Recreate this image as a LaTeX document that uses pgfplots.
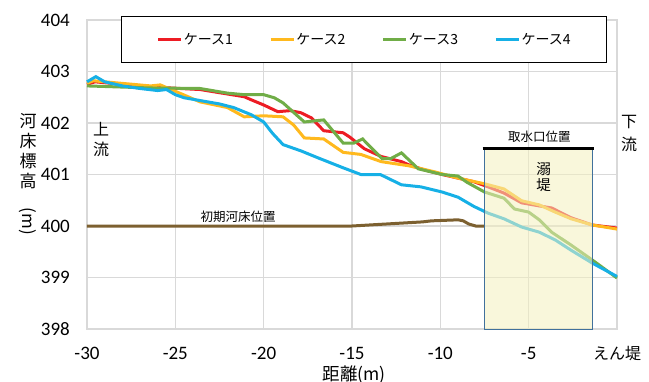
\documentclass[border=0pt]{standalone}
\usepackage{fontspec}
\setmainfont{Carlito}
\newfontfamily\jp{Noto Sans CJK JP}
\usepackage{graphicx}
\usepackage{pgfplots}
\pgfplotsset{compat=1.18}
\definecolor{cRed}{RGB}{237,28,36}
\definecolor{cOrange}{RGB}{255,185,30}
\definecolor{cGreen}{RGB}{112,173,71}
\definecolor{cBlue}{RGB}{22,176,230}
\definecolor{cBrown}{RGB}{124,96,48}
\definecolor{cFill}{RGB}{244,240,190}
\definecolor{cEdge}{RGB}{65,113,156}
\definecolor{cGrid}{RGB}{217,217,217}
\begin{document}
\begin{tikzpicture}
\path[use as bounding box] (0,0) rectangle (649pt,381pt);
\begin{axis}[
  at={(87pt,52pt)}, anchor=south west,
  scale only axis, width=530pt, height=309pt,
  xmin=-30, xmax=0, ymin=398, ymax=404,
  xtick={-30,-25,-20,-15,-10,-5,0},
  xticklabels={-30,-25,-20,-15,-10,-5,{\fontsize{16}{16}\selectfont\jp えん堤}},
  ytick={398,399,400,401,402,403,404},
  yticklabels={398,399,400,401,402,403,404},
  tick style={draw=none},
  grid=major, grid style={cGrid, line width=1.2pt},
  axis line style={cGrid, line width=1.2pt},
  ticklabel style={font=\fontsize{19}{19}\selectfont},
  xticklabel style={anchor=base, yshift=-30pt, inner sep=0pt},
  yticklabel style={anchor=east, xshift=-17pt, inner sep=0pt},
  xlabel={距離(m)},
  xlabel style={at={(axis description cs:0.504,-0.118)}, anchor=north, inner sep=0pt, font=\fontsize{17.5}{17.5}\selectfont\jp},
  ylabel={河\\床\\標\\高\\\rotatebox{-90}{(m)}},
  ylabel style={rotate=-90, at={(axis description cs:-0.111,0.5)}, anchor=center, align=center, font=\fontsize{17}{20}\selectfont\jp},
  clip=false,
  no markers,
  legend columns=4,
  legend style={at={(0.064,1.014)}, anchor=north west, draw=black, line width=0.8pt, fill=white,
    font=\fontsize{14}{14}\selectfont\jp, inner xsep=35pt, inner ysep=16pt,
    nodes={inner sep=1pt},
    /tikz/every even column/.append style={column sep=35pt}},
  legend image code/.code={\draw[#1, line width=3.5pt] (0pt,0pt) -- (23pt,0pt);},
]
\addplot[cRed, line width=3pt] coordinates {
(-30,402.75)(-29.55,402.8)(-26.4,402.7)(-23.6,402.65)(-21.1,402.51)(-20.7,402.45)(-20,402.35)(-19.2,402.22)(-18.5,402.24)(-17.9,402.2)(-17.3,402.1)(-16.6,401.85)(-15.5,401.81)(-15.1,401.72)(-14.3,401.5)(-13.35,401.35)(-12.2,401.25)(-11.8,401.19)(-10.9,401.09)(-9.9,401.0)(-9,400.93)(-8.1,400.86)(-7.3,400.76)(-6.4,400.64)(-5.4,400.45)(-4.4,400.39)(-3.7,400.35)(-2.6,400.16)(-1.4,400.02)(0,399.96)};
\addlegendentry{ケース1}
\addplot[cOrange, line width=3pt] coordinates {
(-30,402.77)(-29.65,402.82)(-26.4,402.72)(-25.85,402.74)(-24.55,402.55)(-23.6,402.41)(-22.05,402.3)(-21.1,402.12)(-20,402.14)(-18.9,402.12)(-18.3,401.96)(-17.7,401.71)(-16.6,401.69)(-15.5,401.43)(-14.5,401.39)(-13.35,401.25)(-11.8,401.17)(-10.3,401.05)(-9,400.93)(-7.5,400.82)(-6.4,400.72)(-5.4,400.49)(-4.4,400.41)(-3.5,400.27)(-2.6,400.14)(-1.4,400.02)(0,399.94)};
\addlegendentry{ケース2}
\addplot[cGreen, line width=3pt] coordinates {
(-30,402.72)(-26.4,402.68)(-23.6,402.67)(-22.05,402.58)(-21.1,402.55)(-20,402.55)(-19.4,402.49)(-18.9,402.39)(-17.7,402.02)(-16.6,402.06)(-15.5,401.61)(-14.9,401.61)(-14.4,401.69)(-13.3,401.31)(-12.8,401.31)(-12.2,401.42)(-11.25,401.11)(-9.9,401.0)(-9,400.97)(-8.5,400.85)(-7.5,400.66)(-6.4,400.54)(-5.8,400.33)(-5,400.27)(-4.4,400.12)(-3.7,399.88)(-2.6,399.63)(-1.4,399.34)(0,398.99)};
\addlegendentry{ケース3}
\addplot[cBlue, line width=3pt] coordinates {
(-30,402.8)(-29.5,402.9)(-29,402.8)(-28,402.72)(-27,402.67)(-26,402.63)(-25.5,402.65)(-25,402.55)(-24.5,402.49)(-23.5,402.43)(-22.5,402.37)(-21.7,402.3)(-20.7,402.16)(-20,402.02)(-19.5,401.8)(-18.9,401.58)(-17.9,401.46)(-16.9,401.32)(-15.5,401.13)(-14.5,401.0)(-13.4,401.0)(-12.2,400.8)(-11.1,400.76)(-9.9,400.66)(-9,400.56)(-8.1,400.38)(-7.3,400.25)(-6.4,400.14)(-5.4,399.98)(-4.4,399.88)(-3.5,399.73)(-2.6,399.53)(-1.4,399.28)(0,399.02)};
\addlegendentry{ケース4}
\addplot[cBrown, line width=3pt, forget plot] coordinates {
(-30,400)(-15,400)(-14,400.02)(-13,400.04)(-12,400.06)(-11,400.08)(-10.5,400.1)(-9,400.12)(-8.7,400.1)(-8.4,400.04)(-8,400.0)(-7.5,400.0)};
\fill[cFill, fill opacity=0.55] (axis cs:-7.5,398) rectangle (axis cs:-1.4,401.5);
\draw[cEdge, line width=1pt] (axis cs:-7.5,398) rectangle (axis cs:-1.4,401.5);
\draw[black, line width=2.5pt] (axis cs:-7.6,401.5) -- (axis cs:-1.3,401.5);
\node[font=\fontsize{12.5}{12.5}\selectfont\jp, anchor=south] at (axis cs:-4.4,401.56) {取水口位置};
\node[font=\fontsize{14.5}{16.5}\selectfont\jp, align=center] at (axis cs:-4.15,400.95) {溺\\堤};
\node[font=\fontsize{12.5}{12.5}\selectfont\jp] at (axis cs:-21.45,400.17) {初期河床位置};
\node[font=\fontsize{16}{20}\selectfont\jp, align=center] at (axis cs:-29.2,401.67) {上\\流};
\node[font=\fontsize{16}{23}\selectfont\jp, align=center] at (axis cs:0.68,401.79) {下\\流};
\end{axis}
\end{tikzpicture}
\end{document}
